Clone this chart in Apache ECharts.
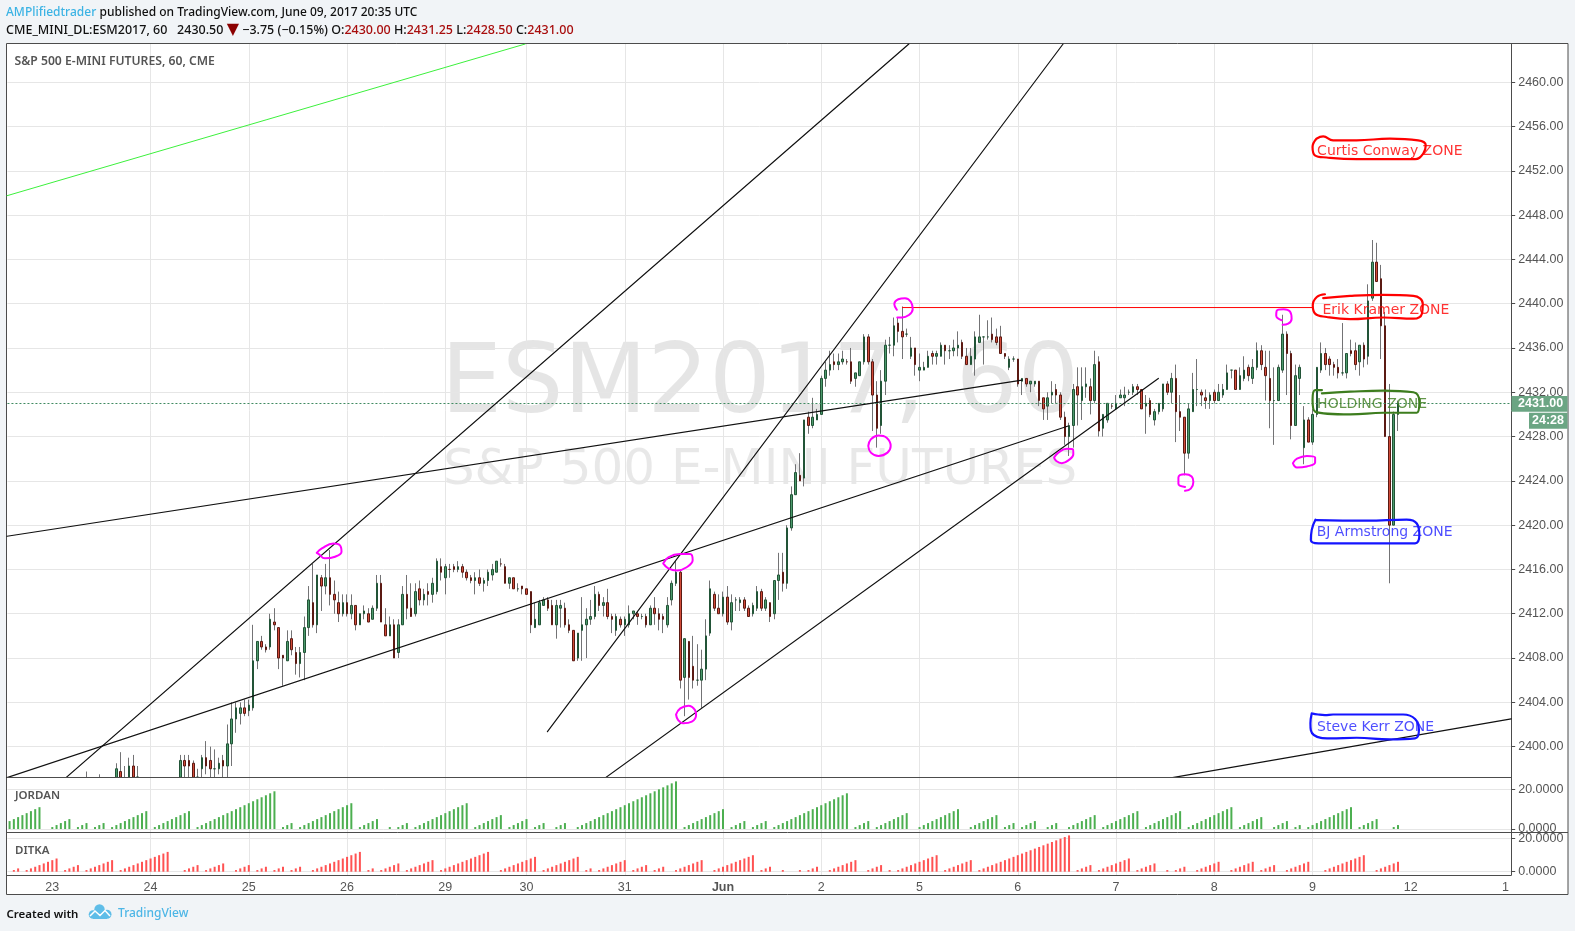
<!DOCTYPE html>
<html><head><meta charset="utf-8">
<script src="https://cdn.jsdelivr.net/npm/echarts@6/dist/echarts.min.js"></script>
<style>html,body{margin:0;padding:0;background:#f1f4f7}#c{width:1575px;height:931px}</style>
</head><body><div id="c"></div>
<script>
// ---- candles: [open, high, low, close], one small list per session
const _ = null;
const beforeMay23 = [_,_,_,_,_,_,_,_,_,_];
const may23 = [_,_,_,_,_,_,_,_,[2396,2397.75,2395,2396.5],_,_,[2396.25,2397.5,2395.5,2396.75],_,_,_,
[2396.5,2398.5,2396,2398],[2397.75,2399.5,2396,2396.5],[2396.5,2398.25,2396,2397],[2396.5,2399,2396,2398.25],[2398.25,2399.25,2396.5,2397.25],[2397.25,2398.25,2396.5,2397.25],_,_];
const may24 = [_,_,_,_,_,_,_,
[2396.5,2399.25,2396,2398.75],[2398.75,2399.25,2397,2398.25],[2398.75,2399.25,2397,2398.25],[2398.5,2398.75,2396,2396.75],[2396.75,2398,2396,2397.25],[2398,2399.25,2397,2399],[2399,2400.5,2397.5,2398.25],[2398.75,2400,2397.25,2398],[2398,2399.75,2397.25,2398],[2398,2399,2397.5,2398.5],[2398.75,2399.25,2397.25,2398.25],[2398.25,2402,2397,2400.25],[2400.25,2404,2398.25,2402.5],[2402.5,2404,2401.25,2403.5],[2403,2404,2402,2403.5],[2403.5,2404.25,2402.75,2403]];
const may25 = [[2403.25,2404.25,2402.75,2403.75],[2403.5,2411,2403.25,2407.75],[2407.75,2409.5,2407,2409.5],[2409.5,2410,2408.75,2409],[2409,2409.25,2408.5,2408.75],[2409,2412,2408.75,2411.5],[2411.25,2412.5,2410.5,2411],[2410.75,2410.75,2407,2408],[2408.25,2408.25,2405.5,2408],[2407.75,2410.5,2407.75,2409.5],[2409.75,2410.5,2408.25,2408.75],[2408.5,2409,2406.5,2407.5],[2407.5,2409,2406.25,2408.5],[2408.5,2411.75,2406,2410.75],[2410.75,2414.5,2410,2413.25],[2413,2416.5,2410.75,2411],[2411,2415.5,2410.25,2415.5],[2415.25,2415.5,2412.25,2414.5],[2414.5,2416.5,2413.75,2415.25],[2415.25,2417.75,2412.75,2413.75],[2413.75,2415,2412,2413.25],[2413,2414,2411.25,2412],[2412,2413.75,2411.75,2413]];
const may26 = [[2413,2413.75,2411.75,2412],[2412,2413.75,2411.5,2412.75],[2412.75,2412.75,2410.5,2411],[2411,2412,2411,2412],[2412,2412.75,2411.5,2412.25],[2412,2412.5,2411.25,2411.25],[2411.5,2412.75,2411.5,2412.5],[2412.5,2415.5,2412.25,2414.75],[2414.75,2415.5,2411.25,2411.25],[2411,2412.5,2410,2410],[2410,2411.75,2410,2411],[2411,2411.5,2408,2408],[2408.5,2411.5,2408,2411],[2411,2414.5,2411,2413.75],[2413.75,2415.5,2411.5,2412.5],[2412.5,2414.75,2411.75,2411.75],[2412,2414.75,2411.75,2414],[2414.25,2415,2412.75,2413.25],[2413.25,2414.25,2412.75,2413.75],[2414,2414.75,2412.75,2413.75],[2413.75,2415.25,2413,2414.75],[2414,2417,2413.75,2416.75],[2416.25,2417,2415,2415.75]];
const may29 = [[2415.25,2416.5,2413.75,2416.25],[2416,2416.5,2415.25,2416],[2416.25,2416.5,2415.75,2416],[2416,2416.75,2415.75,2416.25],[2416.25,2416.5,2415.25,2415.75],[2415.75,2416,2415,2415.25],[2415.25,2415.5,2414.75,2415],[2415,2415.75,2413.75,2415.25],[2415.25,2416,2414.5,2414.75],[2414.75,2415.25,2414,2415],[2415,2416,2414.5,2415.75],[2415.5,2416.5,2415,2416],[2415.75,2416.75,2415.75,2416.75],[2416.5,2417,2416.25,2416.5],[2416.25,2416.5,2414.75,2414.75],[2414.75,2415.25,2414.25,2415.25],[2415.25,2415.25,2414.25,2414.25],[2414.25,2414.75,2414,2414.25],[2414.5,2414.5,2413.75,2414.25]];
const may30 = [[2414.25,2414.25,2413.75,2413.75],[2414,2414,2410.25,2411],[2410.75,2413,2410.75,2411.5],[2411,2413.25,2411,2413],[2412.75,2413.5,2412.75,2413.25],[2413.25,2413.5,2412.25,2412.5],[2412.75,2413.25,2411,2411],[2411,2413.25,2409.75,2412.75],[2412.5,2413.25,2410.75,2412.75],[2412.5,2413,2410.75,2411],[2411,2411.5,2410.25,2410.5],[2410.5,2410.5,2407.75,2407.75],[2408,2410.25,2407.75,2410.25],[2410.5,2413.5,2407.75,2411],[2411,2412.5,2408,2411.5],[2411.5,2413.25,2411,2411.75],[2411.75,2414.5,2411.5,2413.75],[2413.75,2414,2412.25,2412.75],[2412.75,2413.5,2411.75,2413],[2413,2414.25,2411.5,2411.75],[2411.75,2412,2410.25,2411.5],[2410.5,2412,2410,2411.75],[2411.5,2411.75,2410.75,2411]];
const may31 = [[2411,2411.75,2410,2411.5],[2411,2412.75,2410.75,2412],[2412,2412.25,2411.5,2412.25],[2412,2412.25,2411,2411.75],[2411.75,2412,2411.5,2411.75],[2411.75,2412,2410.75,2411],[2411,2412.75,2411,2412.5],[2412.5,2413.5,2411,2412],[2412,2412.5,2410.5,2411.5],[2411.75,2412,2410.25,2411.5],[2411,2413.5,2410.75,2412.75],[2413.25,2415,2412.75,2414.75],[2414.75,2416.75,2414.5,2415.75],[2415.75,2416,2405.25,2406],[2406.25,2409.75,2402.75,2409.75],[2409.5,2409.5,2404.25,2406.25],[2407.25,2410,2405.25,2406],[2406,2409.25,2405.5,2406],[2406,2408.75,2403.5,2407],[2407,2411.5,2406,2410],[2410.25,2415,2410,2414.25],[2413.75,2414,2412.25,2412.5],[2412.5,2413.75,2412,2412]];
const jun1 = [[2412,2414,2411.75,2413.5],[2413.5,2414.5,2411,2411.25],[2411.25,2413.75,2410.5,2413],[2413.25,2413.5,2412.25,2413.25],[2413,2413.5,2412.25,2413.25],[2413.25,2413.5,2412.25,2412.5],[2412.5,2412.75,2411.75,2411.75],[2412,2413,2411.75,2412.75],[2412.5,2414.5,2412.25,2414],[2414,2414.25,2412.25,2412.5],[2412.5,2413.5,2412.25,2413.25],[2413,2413,2411.25,2411.75],[2412,2415,2411.5,2415],[2415,2417.5,2413.25,2415.5],[2415.75,2417.5,2414,2414.75],[2414.75,2420,2414.25,2419.75],[2419.75,2423.5,2419.5,2422.75],[2422.75,2425.5,2422.75,2424.75],[2424.5,2426.5,2424,2424],[2424.25,2429.5,2423.5,2429.5],[2429.75,2430.25,2428.25,2429],[2429,2431.5,2428.75,2429.75],[2429.5,2430.5,2429.5,2430]];
const jun2 = [[2430,2433.5,2430,2433.25],[2433.25,2434.75,2432.5,2434],[2434,2435.75,2433.5,2434.5],[2434.75,2435.5,2434,2434.5],[2434.5,2435.5,2434,2434.75],[2434.75,2435.75,2434.5,2435],[2434.75,2435,2434.5,2434.75],[2434.75,2436,2432.75,2433],[2433.25,2433.75,2432.5,2433.75],[2433.5,2434.75,2433.5,2434.75],[2434.75,2437.25,2434.5,2437],[2437,2437.25,2434.5,2434.75],[2434.75,2435,2428.5,2431.75],[2431.75,2433,2427,2428.75],[2429,2434,2428.25,2433],[2433,2436.75,2431.75,2436.25],[2436.25,2437,2435.5,2436.25],[2436.25,2438.75,2435.25,2438],[2438.25,2438.75,2436.5,2437.5],[2437.5,2439.75,2435,2437],[2437.25,2437.75,2437,2437.25],[2435.25,2437,2435,2436],[2436,2436,2433.5,2434.5]];
const jun5 = [[2434,2435.5,2433,2434.25],[2434,2434.75,2434,2434.25],[2434.25,2435.75,2434.25,2435.25],[2435.5,2435.75,2434.5,2435.25],[2435.25,2435.75,2434.5,2435.5],[2435.25,2436.5,2435.25,2436.25],[2436.25,2436.25,2434.5,2435.75],[2435.75,2436.25,2435,2435.75],[2435.75,2436.75,2435.25,2436],[2436,2437.5,2435.25,2436.25],[2436.5,2436.75,2435,2435.25],[2435.25,2436,2434.5,2434.5],[2434.5,2436,2434.5,2435.25],[2435,2437.5,2433.5,2437],[2436.5,2439,2436.5,2437],[2437,2437,2434.5,2437],[2437,2438.5,2436.75,2437],[2437.25,2438.75,2436.5,2436.75],[2437,2437.75,2436.25,2436.5],[2437,2438,2435.5,2435.5],[2435.5,2435.5,2435,2435.25],[2434.25,2435.25,2434,2435],[2435,2435.25,2434.75,2435]];
const jun6 = [[2435,2435,2432.5,2432.75],[2433,2433.25,2431.75,2433.25],[2433.25,2433.25,2432.5,2432.75],[2432.75,2433,2432,2433],[2432.75,2433,2432.5,2433],[2433,2433,2430.75,2431.25],[2431.5,2431.5,2429.5,2430.5],[2430.75,2432,2429.5,2431.5],[2431.75,2433,2431,2432],[2432.25,2432.75,2431,2431.75],[2431.75,2432,2429.5,2429.75],[2429.75,2430.25,2427.25,2428],[2428,2429.25,2426.25,2429],[2429,2432.75,2427,2432.25],[2432.5,2434.25,2429,2431.75],[2431.25,2434.25,2429.5,2432.5],[2432.5,2434.25,2431.5,2432.75],[2432.5,2433.25,2430,2431.25],[2431.25,2435.75,2431,2434.5],[2434.75,2435.25,2428,2428.5],[2428.75,2430,2428,2430],[2429.5,2431,2429.25,2431],[2430.75,2431,2430.5,2430.75]];
const jun7 = [[2430.5,2431.75,2430.5,2431],[2431.5,2432.25,2431.5,2431.75],[2431.5,2432.5,2430.75,2431.75],[2432,2432.25,2431.75,2432],[2432,2432.75,2431.75,2432.5],[2432.5,2432.75,2431.75,2432.25],[2432.25,2432.25,2430.5,2430.5],[2430.75,2431.75,2428.25,2431],[2431.25,2431.5,2429.75,2430],[2429.5,2430.5,2429,2430.25],[2430.25,2431,2430,2431],[2430.5,2432.75,2430.25,2432.75],[2432.75,2433,2431.75,2432],[2432,2433.75,2431,2433.25],[2433.25,2434.5,2427.5,2430.25],[2430.25,2431.75,2428.5,2429.75],[2429.75,2429.75,2424.5,2426.5],[2426.5,2431,2426,2430.5],[2430.25,2433.75,2430.25,2432.25],[2432.25,2435,2430.75,2432.25],[2432,2432.25,2430.75,2431.75],[2431.5,2432.25,2430.5,2431.25],[2431.25,2432,2430.5,2431.75]];
const jun8 = [[2432,2432.25,2431,2431.25],[2431.25,2432.75,2431.25,2432],[2431.75,2432.75,2431.5,2432.25],[2432.25,2434.5,2432.25,2433.75],[2434,2434,2433.25,2434],[2434,2434,2432.25,2432.25],[2432.25,2434.25,2432.25,2433.5],[2433.25,2435.25,2433,2434],[2434.25,2434.5,2433,2433.5],[2433.25,2435,2432.75,2434.25],[2434.25,2436.5,2434,2435.75],[2435.75,2436.25,2434,2434.5],[2434.25,2435.75,2431.25,2433.5],[2433.25,2435.75,2428.75,2431.25],[2431.25,2434.25,2427.25,2431.25],[2431.25,2434.5,2431.25,2434.25],[2434,2439,2433.75,2437.25],[2437.25,2437.5,2431.75,2435.5],[2435.5,2435.75,2427.75,2429],[2429,2434.5,2429,2433.5],[2433.25,2434.5,2431.75,2434.25],[2427,2430.75,2425.5,2429.5],[2429.5,2429.75,2427.5,2427.5]];
const jun9 = [[2427.5,2430.5,2427.25,2430],[2430,2434.25,2429.75,2434.25],[2434,2436.5,2433.75,2435.5],[2435.5,2436,2434,2434.5],[2435,2435.25,2433.5,2434.5],[2434.5,2434.75,2433.5,2434.25],[2434.25,2435,2433.25,2433.75],[2433.75,2438.25,2433.5,2433.75],[2433.75,2435.5,2433.25,2435.5],[2435.75,2436.75,2435.25,2435.5],[2435.75,2436.5,2434,2434.5],[2434.75,2436.25,2433.5,2436.25],[2436.25,2436.5,2434.25,2435],[2435.25,2441.75,2434.5,2440.25],[2440.5,2445.75,2440.25,2443.75],[2443.75,2445.5,2442,2442],[2442.25,2443.5,2435,2438],[2438,2439.25,2428,2428],[2428,2432.75,2414.75,2420],[2420,2430.25,2420,2430],[2430,2431.25,2428.5,2431]];

// ---- lower panes
const jordan = [4,5,6,7,8,9,10,11,0,0,
1,2,3,4,5,0, 1,2,3,0, 1,2,3,0, 1,2,3,4,5,6,7,8,9,0, 1,2,3,4,5,6,7,8,9,0,
1,2,3,4,5,6,7,8,9,10,11,12,13,14,15,16,17,18,19,0, 1,2,3,0,
1,2,3,4,5,6,7,8,9,10,11,12,13,0, 1,2,3,4,5,0,0, 1,0, 1,2,3,0,
1,2,3,4,5,6,7,8,9,10,11,12,13,0, 1,2,3,4,5,6,7,0, 1,2,3,4,5,0, 1,2,3,0,0, 1,2,3,0,0,
1,2,3,4,5,6,7,8,9,10,11,12,13,14,15,16,17,18,19,20,21,22,23,24,0,
1,2,3,4,5,6,7,8,9,10,0, 1,2,3,4,0, 1,2,3,4,0,
1,2,3,4,5,6,7,8,9,10,11,12,13,14,15,16,17,18,0, 1,2,3,4,0, 1,2,3,4,5,6,7,8,0,0,
1,2,3,4,5,6,7,8,9,10,0,0, 1,2,3,4,5,6,7,0, 1,2,3,0, 1,2,3,4,0,0, 1,2,3,0,0,
1,2,3,4,5,6,7,0, 1,2,3,4,5,6,7,8,9,0, 1,2,3,4,5,6,7,8,9,0, 1,2,3,4,5,6,7,8,9,10,11,0,
1,2,3,4,5,6,0,0, 1,2,3,4,0, 1,2,0, 1,2,3,4,5,6,7,8,9,10,11,0, 1,2,3,4,5,0,0,0, 1,2];
const ditka = [0, 1,2,0, 1,2,3,4,5,6,7,8,0, 1,2,3,4,0, 1,2,3,4,5,6,7,0,
1,2,3,4,5,6,7,8,9,10,11,12,0,0,0, 1,2,3,4,0, 1,2,3,4,5,0,0, 1,2,3,4,0, 1,2,3,0, 1,2,3,0, 1,2,3,0,0,
1,2,3,4,5,6,7,8,9,10,11,12,0, 1,2,0, 1,2,3,4,5,0, 1,2,3,4,5,6,7,0,
1,2,3,4,5,6,7,8,9,10,11,12,0,0, 1,2,3,4,5,6,7,8,9,0, 1,2,3,4,5,6,7,8,9,0, 1,2,0,
1,2,3,4,5,6,7,0, 1,2,3,4,0, 1,2,3,0,0, 1,2,3,4,5,6,7,0,0, 1,2,3,4,5,6,7,8,9,10,0, 1,2,3,0,0,
1,0,0,0, 1,0, 1,2,3,0,0, 1,2,3,4,5,6,7,0,0, 1,2,3,4,0, 1,0, 1,2,3,4,5,6,7,8,9,10,0, 1,2,3,4,5,6,7,0,
1,2,3,4,5,6,7,8,9,10,11,12,13,14,15,16,17,18,19,20,21,22,0, 1,2,3,4,0, 1,2,3,4,5,6,7,8,0,
1,2,3,4,5,0,0, 1,0, 1,2,3,0,0, 1,2,3,4,5,6,0,0, 1,2,3,4,5,6,0, 1,2,3,4,0,0, 1,2,3,4,5,6,0,0,0,
1,2,3,4,5,6,7,8,9,10,0,0, 1,2,3,4,5,6];

// ---- axes
const barCount = 352;
const dayLabels = ['23','24','25','26','29','30','31','Jun','2','5','6','7','8','9','12','1'];
const dayBars   = [10,33,56,79,102,121,144,167,190,213,236,259,282,305,328,351];
const priceTicks = [2400,2404,2408,2412,2416,2420,2424,2428,2432,2436,2440,2444,2448,2452,2456,2460];
const oscTicks = [0,20];
const priceMin = 2397.23, priceMax = 2463.45;

// ---- drawn trend lines: [bar, price]
const greenLine = [[-0.6,2449.75],[120.7,2463.45]];
const blackLines = [
  [[13.2,2397.2],[210.5,2463.45]],
  [[-0.6,2397.2],[247.8,2428.95]],
  [[-0.6,2419],[237,2433.1]],
  [[125.9,2401.35],[246.6,2463.45]],
  [[139.5,2397.2],[268.9,2433.25]],
  [[272.2,2397.2],[351.5,2402.5]]
];
const redLine = [[209,2439.65],[305,2439.65]];

// ---- hand-drawn circles
const pink = [
  [[71.9,2417.5],[73.1,2417.9],[75.8,2418.35],[77.3,2418.2],[77.7,2417.6],[76.2,2417.15],[73.8,2417],[72.3,2417.4],[71.9,2417.5]],
  [[153,2416.55],[154.2,2417.1],[156.9,2417.4],[159.3,2417.4],[159.9,2416.85],[158.5,2416.2],[156.2,2415.9],[154.2,2416.1],[153,2416.55]],
  [[156,2402.9],[157,2403.45],[158.9,2403.7],[160.45,2403.3],[160.7,2402.85],[159.7,2402.25],[157.7,2402.1],[156.5,2402.4],[156,2402.9]],
  [[207.7,2439.45],[207.1,2439.95],[208.05,2440.4],[209.6,2440.5],[211,2440.15],[211.4,2439.5],[210.4,2438.95],[208.9,2438.75],[207.8,2438.75]],
  [[201,2427.15],[201.6,2427.75],[203.4,2428.1],[205.3,2427.9],[206.25,2427.15],[205.5,2426.55],[203.4,2426.25],[201.6,2426.55],[201,2427.15]],
  [[244.5,2426.1],[245.5,2426.55],[247.5,2426.9],[248.9,2426.85],[249,2426.4],[247.85,2425.85],[246.3,2425.6],[245,2425.8],[244.5,2426.1]],
  [[275.15,2423.45],[273.6,2423.75],[273.6,2424.3],[275.15,2424.6],[276.7,2424.4],[277.1,2423.9],[276.5,2423.3],[275.15,2423.1]],
  [[297.8,2438.5],[296.5,2438.9],[296.6,2439.35],[298.2,2439.5],[299.7,2439.3],[300.1,2438.65],[299.3,2438.2],[298,2438.1]],
  [[300.4,2425.6],[301.35,2426],[303.65,2426.25],[305.6,2426.1],[305.6,2425.65],[303.65,2425.3],[301.35,2425.2],[300.4,2425.6]]
];
const curtisLoop = [[305.9,2454.9],[305,2454.15],[305.55,2453.4],[308.3,2453.2],[315.3,2453.05],[323.1,2453.05],[329,2453.05],[330.9,2453.55],[331.5,2454.3],[329.7,2454.75],[323.1,2454.9],[315.3,2454.75],[309.8,2454.75],[307.5,2455.1],[305.9,2454.9]];
const erikLoop = [[307.9,2440.85],[306,2440.6],[305.05,2439.85],[305.6,2439.1],[308.3,2438.8],[313.8,2438.6],[321.6,2438.75],[328.6,2438.65],[330.6,2439.1],[330.8,2440],[328.6,2440.7],[321.6,2440.8],[313.8,2440.7],[307.5,2440.5]];
const holdingLoop = [[307.2,2432.2],[305.6,2432.2],[305,2431.3],[305.6,2430.25],[313.8,2430],[321.6,2430.15],[329.4,2430.15],[330,2431.15],[328.6,2432],[321.6,2432.15],[313.8,2432.05],[307.2,2431.9]];
const bjLoop = [[305.7,2420.5],[304.8,2419.55],[304.6,2418.65],[306.4,2418.35],[317.7,2418.35],[329,2418.35],[330,2419.1],[329.4,2420.15],[327,2420.5],[317.7,2420.4],[305.9,2420.45]];
const steveLoop = [[304.8,2403],[304.5,2402.1],[305.3,2401.05],[309.1,2400.75],[315.3,2400.8],[323.1,2400.65],[329,2400.75],[329.9,2401.5],[329,2402.5],[326.2,2402.9],[319.2,2402.9],[309.8,2402.9],[307.9,2402.85],[306.3,2402.9],[304.8,2403]];

// ---- zone captions
const zoneNames  = ['Curtis Conway ZONE','Erik Kramer ZONE','HOLDING ZONE','BJ Armstrong ZONE','Steve Kerr ZONE'];
const zoneBars   = [305.95,307.2,305.95,305.85,305.95];
const zonePrices = [2453.8,2439.4,2430.95,2419.35,2401.75];
const zoneColors = ['#ff0000','#ff0000','#3d7d1e','#1f1fff','#1f1fff'];

const lastClose = 2431;

// ---- build
const rows = [].concat(beforeMay23,may23,may24,may25,may26,may29,may30,may31,jun1,jun2,jun5,jun6,jun7,jun8,jun9);
const cats = Array.from({length:barCount},(_,i)=>{const k=dayBars.indexOf(i);return k>=0?dayLabels[k]:''});
const isGridDay = n => n!=='' && n!=='1';
// bars reaching under the pane floor are cut at the floor (candlesticks are not pixel-clipped by the library)
const cut = v => Math.max(v, priceMin);
const wickData = rows.map(r=>r?[cut(r[0]),cut(r[3]),cut(r[2]),cut(r[1])]:'-');
const bodyData = rows.map(r=>{
  if(!r) return '-';
  const o=cut(r[0]),c=cut(r[3]);
  return (Math.max(r[0],r[3])<priceMin)?'-':[o,c,Math.min(o,c),Math.max(o,c)];
});

const GRID='#e6e6e6', FRAME='#4c4c4c', TXT='#555555', AXF='"Liberation Sans",Arial,sans-serif';
const xBase = i => ({gridIndex:i,type:'category',data:cats,boundaryGap:true,
  axisLine:{show:false},axisTick:{show:false},axisLabel:{show:false},
  splitLine:{show:true,showMinLine:false,showMaxLine:false,alignWithLabel:true,interval:(idx,n)=>isGridDay(cats[idx]),lineStyle:{color:GRID,width:1}}});
const yBase = (i,min,max,ticks,dec) => ({gridIndex:i,type:'value',position:'right',min,max,scale:true,
  axisLine:{show:true,onZero:false,lineStyle:{color:FRAME,width:1}},
  axisTick:{show:true,length:4,customValues:ticks,lineStyle:{color:FRAME}},
  axisLabel:{show:true,customValues:ticks,margin:7,color:TXT,fontFamily:AXF,fontSize:12.5,padding:[2,0,0,0],formatter:v=>v.toFixed(dec)},
  splitLine:{show:true,customValues:ticks,lineStyle:{color:GRID,width:1}}});
const x2 = xBase(2);
x2.axisLabel={show:true,interval:(idx,n)=>cats[idx]!=='',margin:6,color:TXT,fontFamily:AXF,fontSize:12.5,hideOverlap:false,
  formatter:v=>v==='Jun'?'{b|Jun}':(v==='1'?'{r|1}':v),
  rich:{b:{fontWeight:'bold',color:TXT,fontFamily:AXF,fontSize:12.5},r:{color:TXT,fontFamily:AXF,fontSize:12.5,padding:[0,7,0,0]}}};

const overlay = (data,color,width,smooth) => ({type:'line',xAxisIndex:3,yAxisIndex:0,data,symbol:'none',smooth:smooth?0.45:false,
  clip:true,silent:true,animation:false,z:5,lineStyle:{color,width,cap:'round',join:'round'}});

const series = [
 {type:'candlestick',xAxisIndex:0,yAxisIndex:0,data:wickData,barWidth:1,z:3,animation:false,silent:true,
  itemStyle:{color:'#737375',color0:'#737375',borderColor:'#737375',borderColor0:'#737375',borderWidth:1}},
 {type:'candlestick',xAxisIndex:0,yAxisIndex:0,data:bodyData,barWidth:2,z:4,animation:false,silent:true,
  itemStyle:{color:'#4c9a6c',color0:'#d14a38',borderColor:'#225437',borderColor0:'#5b1a13',borderWidth:1},
  markLine:{silent:true,symbol:'none',animation:false,z:5,label:{show:false},data:[{yAxis:lastClose}],lineStyle:{color:'#3f8a60',type:[2,2],width:1,opacity:1}}},
 {type:'bar',xAxisIndex:1,yAxisIndex:1,data:jordan,barWidth:2,silent:true,animation:false,itemStyle:{color:'#4caf50'}},
 {type:'bar',xAxisIndex:2,yAxisIndex:2,data:ditka,barWidth:2,silent:true,animation:false,itemStyle:{color:'#ff5252'}},
 overlay(greenLine,'#3cf03c',1),
 overlay(redLine,'#ff0000',1),
 ...blackLines.map(l=>overlay(l,'#111111',1.2)),
 ...pink.map(l=>overlay(l,'#ff00ff',2,true)),
 overlay(curtisLoop,'#ff0000',2.2,true),
 overlay(erikLoop,'#ff0000',2.2,true),
 overlay(holdingLoop,'#3d7d1e',2.2,true),
 overlay(bjLoop,'#1414ff',2.2,true),
 overlay(steveLoop,'#1414ff',2.2,true),
 {type:'scatter',xAxisIndex:3,yAxisIndex:0,silent:true,animation:false,z:6,symbolSize:1,itemStyle:{color:'rgba(0,0,0,0)'},
  data:zoneNames.map((n,i)=>({name:n,value:[zoneBars[i],zonePrices[i]],label:{color:zoneColors[i]}})),
  label:{show:true,position:'right',distance:0,formatter:p=>p.name,fontFamily:'"DejaVu Sans"',fontSize:14}}
];

const HF='"Noto Sans",sans-serif';
const tx=(x,y,text,o)=>({type:'text',x,y,z:o&&o.z||20,silent:true,style:Object.assign({text,fill:'#111',font:'12px '+HF,textVerticalAlign:'middle'},o&&o.style||{})});

const graphic = [
 {type:'rect',z:-10,silent:true,shape:{x:6.5,y:43.5,width:1561.5,height:851},style:{fill:'#fff',stroke:FRAME,lineWidth:1}},
 {type:'text',z:-5,silent:true,x:760,y:387,style:{text:'ESM2017, 60',fill:'rgba(0,0,0,0.1)',font:'97px "DejaVu Sans"',textAlign:'center',textVerticalAlign:'middle'}},
 {type:'text',z:-5,silent:true,x:760,y:471,style:{text:'S&P 500 E-MINI FUTURES',fill:'rgba(0,0,0,0.09)',font:'50px "DejaVu Sans"',textAlign:'center',textVerticalAlign:'middle'}},
 {type:'text',z:20,silent:true,x:6,y:12.5,style:{
   text:'{a|AMPlifiedtrader} {b|published on TradingView.com, June 09, 2017 20:35 UTC}',textVerticalAlign:'middle',
   rich:{a:{fill:'#3bb3e4',font:'500 12px '+HF},b:{fill:'#111',font:'500 12px '+HF}}}},
 {type:'text',z:20,silent:true,x:6,y:30.2,style:{
   text:'{b|CME_MINI_DL:ESM2017, 60   2430.50 }{t|▼}{b| −3.75 (−0.15%) O:}{r|2430.00}{b| H:}{r|2431.25}{b| L:}{r|2428.50}{b| C:}{r|2431.00}',textVerticalAlign:'middle',
   rich:{b:{fill:'#111',font:'500 12.5px '+HF},r:{fill:'#a80d0d',font:'500 12.5px '+HF},t:{fill:'#8b0000',font:'16px "DejaVu Sans"'}}}},
 tx(14.5,61.5,'S&P 500 E-MINI FUTURES, 60, CME',{style:{fill:'#555',font:'600 12.2px '+HF}}),
 tx(15,795.5,'JORDAN',{style:{fill:'#555',font:'600 11.5px '+HF}}),
 tx(15,850.5,'DITKA',{style:{fill:'#555',font:'600 11.5px '+HF}}),
 {type:'rect',z:30,silent:true,shape:{x:1511.5,y:396,width:56,height:15.7},style:{fill:'#6ba583'}},
 {type:'text',z:31,silent:true,x:1518,y:404,style:{text:String(lastClose.toFixed(2)),fill:'#fff',font:'bold 12.5px '+AXF,textVerticalAlign:'middle'}},
 {type:'rect',z:30,silent:true,shape:{x:1529,y:412.7,width:38.5,height:16},style:{fill:'#6ba583'}},
 {type:'text',z:31,silent:true,x:1532,y:421,style:{text:'24:28',fill:'#fff',font:'bold 12.5px '+AXF,textVerticalAlign:'middle'}},
 tx(6.5,914.5,'Created with',{style:{fill:'#111',font:'600 11.5px '+HF}}),
 tx(118,914,'TradingView',{style:{fill:'#4db6e6',font:'500 12px '+HF}}),
 {type:'circle',z:20,silent:true,shape:{cx:99.5,cy:909.5,r:5.2},style:{fill:'#5fbde8'}},
 {type:'circle',z:20,silent:true,shape:{cx:93,cy:914.5,r:4.3},style:{fill:'#5fbde8'}},
 {type:'circle',z:20,silent:true,shape:{cx:107,cy:914.3,r:4.5},style:{fill:'#5fbde8'}},
 {type:'rect',z:20,silent:true,shape:{x:93,y:912,width:14,height:7},style:{fill:'#5fbde8'}},
 {type:'polyline',z:21,silent:true,shape:{points:[[90,916],[95,911],[100,915.5],[105,910.5],[110,916]]},style:{stroke:'#fff',fill:null,lineWidth:1.5}}
];

const left=7.44, right=1575-1511.2;
const chart=echarts.init(document.getElementById('c'),null,{renderer:'canvas'});
chart.setOption({
 animation:false,backgroundColor:'#f1f4f7',
 grid:[
  {left,right,top:44,height:733.3,show:false},
  {left,right,top:777.3,height:54.7,show:false},
  {left,right,top:832,height:43.3,show:false}
 ],
 xAxis:[xBase(0),xBase(1),x2,{gridIndex:0,type:'value',min:-0.5,max:351.5,show:false}],
 yAxis:[yBase(0,priceMin,priceMax,priceTicks,2),yBase(1,-1.5,26.05,oscTicks,4),yBase(2,-2.18,24.06,oscTicks,4)],
 series,
 graphic:{elements:graphic.concat([
  {type:'line',z:15,silent:true,shape:{x1:7,y1:777.5,x2:1511,y2:777.5},style:{stroke:FRAME,lineWidth:1}},
  {type:'line',z:15,silent:true,shape:{x1:7,y1:832.5,x2:1568,y2:832.5},style:{stroke:FRAME,lineWidth:1}},
  {type:'line',z:15,silent:true,shape:{x1:7,y1:875.5,x2:1511,y2:875.5},style:{stroke:FRAME,lineWidth:1}}
 ])}
});
</script></body></html>
